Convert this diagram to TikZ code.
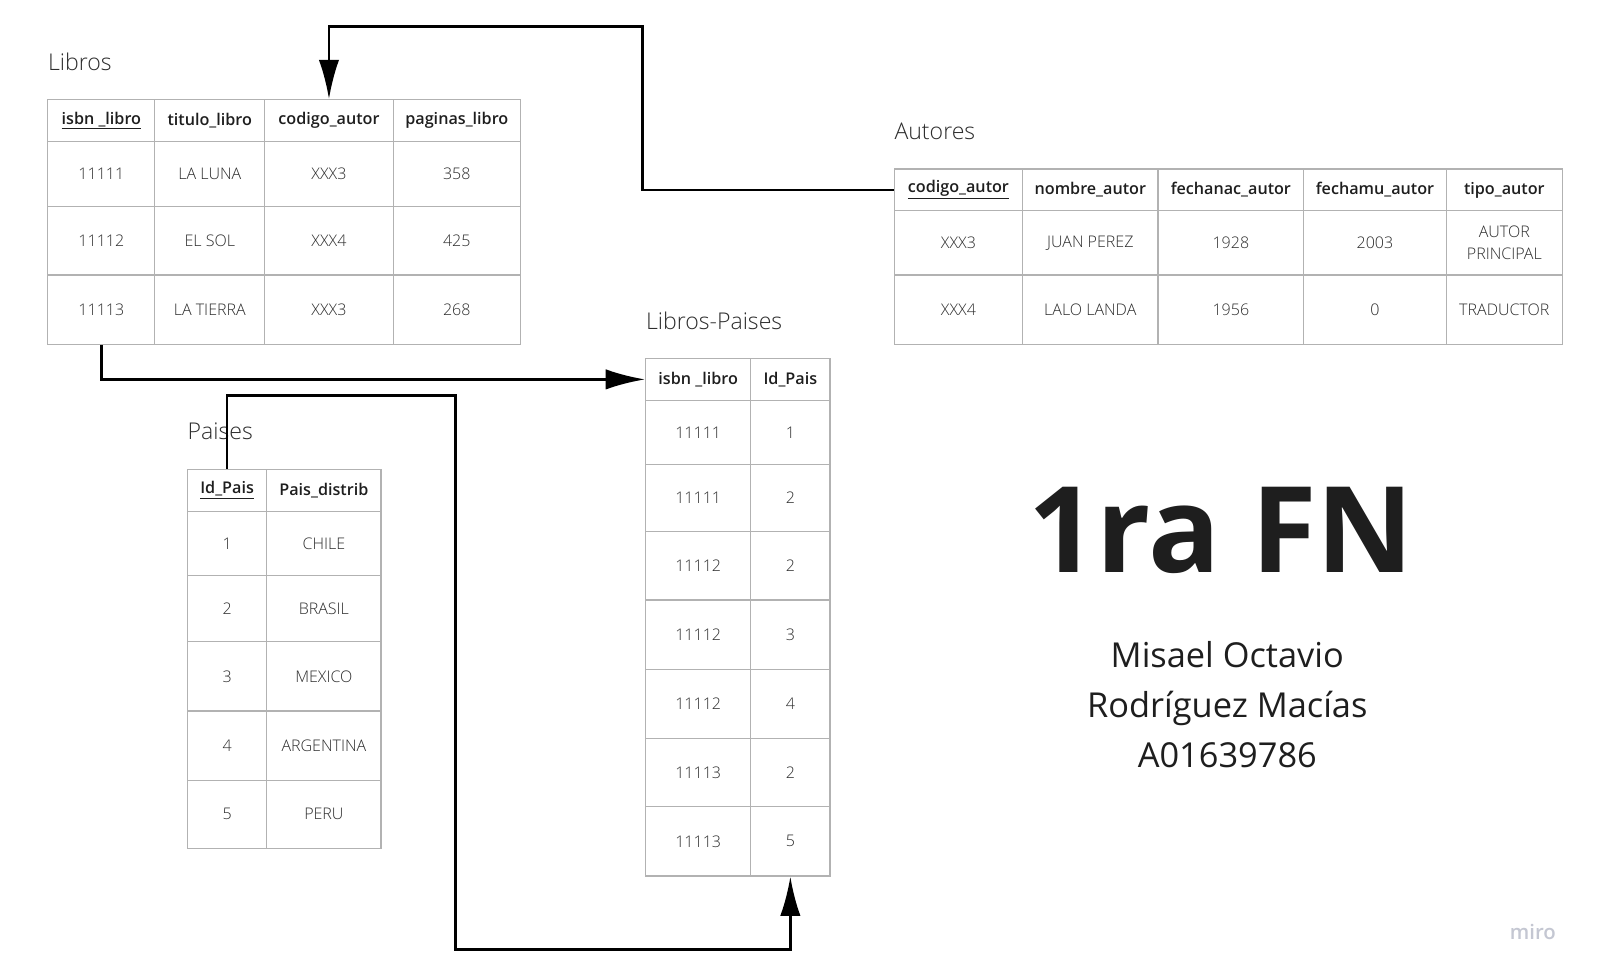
\documentclass[tikz,border=0pt]{standalone}
\usepackage{fontspec}
\setmainfont{Open Sans}
\newfontfamily\lightfont{Open Sans Light}
\newfontfamily\semifont{Open Sans Semibold}
\usetikzlibrary{arrows.meta}
\definecolor{gridc}{RGB}{178,178,178}
\definecolor{cellt}{RGB}{45,45,45}
\definecolor{headt}{RGB}{30,30,30}
\definecolor{titlet}{RGB}{45,45,45}
\definecolor{mirot}{RGB}{196,199,210}
\tikzset{
  cellbox/.style={draw=gridc, line width=0.9pt, inner sep=0pt, text=cellt, font=\lightfont\fontsize{11.8}{16.5}\selectfont, align=center},
  headbox/.style={cellbox, text=headt, font=\semifont\fontsize{11.9}{14}\selectfont},
  ttl/.style={anchor=west, inner sep=0pt, text=titlet, font=\lightfont\fontsize{17}{20}\selectfont},
  conn/.style={line width=2pt, black, -{Latex[length=29pt,width=15pt]}},
}
\newcommand\trow[5]{\foreach \xa/\xb/\txt [count=\c] in {#5}{\node[#1, minimum width={(\xb-\xa)*0.75pt}, minimum height={(#4-#3)*0.75pt}] (#2-\c) at ({(\xa+\xb)/2},{(#3+#4)/2}) {\txt};}}
\begin{document}
\begin{tikzpicture}[x=0.75pt,y=-0.75pt]
\useasboundingbox[fill=white] (0,0) rectangle (1568,960);

% Titles
\node[ttl] (tL) at (47,61) {Libros};
\node[ttl] (tA) at (878,129) {Autores};
\node[ttl] (tLP) at (634,315) {Libros-Paises};
\node[ttl] (tPa) at (184,423) {Paises};

% Libros
\trow{headbox}{L-h}{98}{139}{47/152/\underline{isbn \_libro}, 152/260/titulo\_libro, 260/386/codigo\_autor, 386/511/paginas\_libro}
\trow{cellbox}{L-1}{139}{203}{47/152/11111, 152/260/LA LUNA, 260/386/XXX3, 386/511/358}
\trow{cellbox}{L-2}{203}{270}{47/152/11112, 152/260/EL SOL, 260/386/XXX4, 386/511/425}
\trow{cellbox}{L-3}{270}{338}{47/152/11113, 152/260/LA TIERRA, 260/386/XXX3, 386/511/268}

% Autores
\trow{headbox}{A-h}{166}{207}{878/1004/\underline{codigo\_autor}, 1004/1137/nombre\_autor, 1137/1280/fechanac\_autor, 1280/1420/fechamu\_autor, 1420/1534/tipo\_autor}
\trow{cellbox}{A-1}{207}{270}{878/1004/XXX3, 1004/1137/JUAN PEREZ, 1137/1280/1928, 1280/1420/2003, 1420/1534/AUTOR\\PRINCIPAL}
\trow{cellbox}{A-2}{270}{338}{878/1004/XXX4, 1004/1137/LALO LANDA, 1137/1280/1956, 1280/1420/0, 1420/1534/TRADUCTOR}

% Libros-Paises
\trow{headbox}{LP-h}{352}{393}{634/737/isbn \_libro, 737/815/Id\_Pais}
\trow{cellbox}{LP-1}{393}{456}{634/737/11111, 737/815/1}
\trow{cellbox}{LP-2}{456}{522}{634/737/11111, 737/815/2}
\trow{cellbox}{LP-3}{522}{589}{634/737/11112, 737/815/2}
\trow{cellbox}{LP-4}{589}{657}{634/737/11112, 737/815/3}
\trow{cellbox}{LP-5}{657}{725}{634/737/11112, 737/815/4}
\trow{cellbox}{LP-6}{725}{792}{634/737/11113, 737/815/2}
\trow{cellbox}{LP-7}{792}{860}{634/737/11113, 737/815/5}

% Paises
\trow{headbox}{Pa-h}{461}{502}{184/262/\underline{Id\_Pais}, 262/374/Pais\_distrib}
\trow{cellbox}{Pa-1}{502}{565}{184/262/1, 262/374/CHILE}
\trow{cellbox}{Pa-2}{565}{630}{184/262/2, 262/374/BRASIL}
\trow{cellbox}{Pa-3}{630}{698}{184/262/3, 262/374/MEXICO}
\trow{cellbox}{Pa-4}{698}{766}{184/262/4, 262/374/ARGENTINA}
\trow{cellbox}{Pa-5}{766}{833}{184/262/5, 262/374/PERU}

% Connectors
\coordinate (k1) at (631,26);
\draw[conn] (A-h-1.west) -| (k1) -| (L-h-3.north);
\draw[conn] (L-3-1.south) |- (LP-h-1.west);
\coordinate (k2) at (447,388);
\coordinate (k3) at (447,932);
\draw[conn] (Pa-h-1.north) |- (k2) -- (k3) -| (LP-7-2.south);

% Title block
\node[inner sep=0pt, text=headt, font=\fontsize{88}{100}\selectfont\bfseries] (fn) at (1199,521) {1ra FN};
\node[inner sep=0pt, align=center, text=headt, font=\fontsize{25.3}{36.75}\selectfont] (name) at (1205,692) {Misael Octavio\\Rodríguez Macías\\A01639786};
\node[inner sep=0pt, text=mirot, font=\semifont\fontsize{15}{18}\selectfont] (miro) at (1505,915) {miro};
\end{tikzpicture}
\end{document}
